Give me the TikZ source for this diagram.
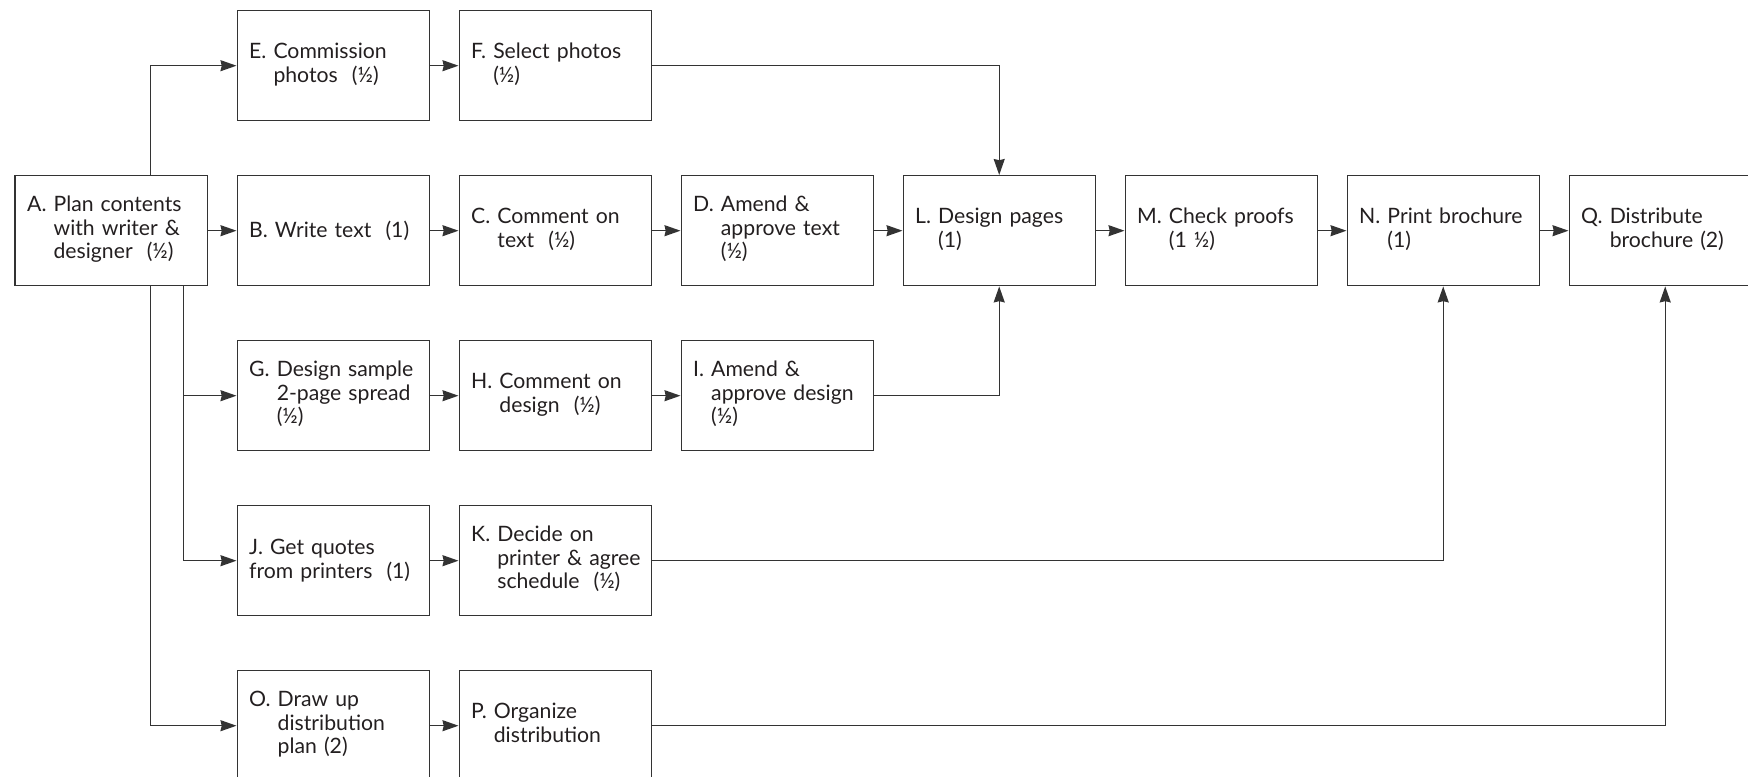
\documentclass[tikz,border=0pt]{standalone}
\usepackage{fontspec}
\setmainfont{Lato}
\usetikzlibrary{arrows.meta,positioning,calc}
\definecolor{pmline}{HTML}{333333}
\definecolor{pmtext}{HTML}{231F20}
\newcommand{\tasktext}[2]{#1~\begin{tabular}[t]{@{}l@{}}#2\end{tabular}}

\begin{document}
\begin{tikzpicture}[
   node distance=26.8pt and 14.3pt,
   task/.style={draw=pmline,line width=0.7pt,minimum width=96pt,
                minimum height=55pt,text width=84pt,inner xsep=6pt,
                align=left,text=pmtext,
                font=\fontsize{10.6}{11.7}\selectfont},
   ar/.style={-{Stealth[length=8pt,width=5.5pt,inset=0.6pt]},line width=0.7pt,pmline}]
  % main row
  \node[task] (A) {\tasktext{A.}{Plan contents\\with writer \&\\designer~~(½)}};
  \node[task,right=of A] (B) {B. Write text~~(1)};
  \node[task,right=of B] (C) {\tasktext{C.}{Comment on\\text~~(½)}};
  \node[task,right=of C] (D) {\tasktext{D.}{Amend \&\\approve text\\(½)}};
  \node[task,right=of D] (L) {\tasktext{L.}{Design pages\\(1)}};
  \node[task,right=of L] (M) {\tasktext{M.}{Check proofs\\(1 ½)}};
  \node[task,right=of M] (N) {\tasktext{N.}{Print brochure\\(1)}};
  \node[task,right=of N] (Q) {\tasktext{Q.}{Distribute\\brochure (2)}};
  % side branches
  \node[task,above=of B] (E) {\tasktext{E.}{Commission\\photos~~(½)}};
  \node[task,right=of E] (F) {\tasktext{F.}{Select photos\\(½)}};
  \node[task,below=of B] (G) {\tasktext{G.}{Design sample\\2-page spread\\(½)}};
  \node[task,right=of G] (H) {\tasktext{H.}{Comment on\\design~~(½)}};
  \node[task,right=of H] (I) {\tasktext{I.}{Amend \&\\approve design\\(½)}};
  \node[task,below=of G] (J) {J. Get quotes\\from printers~~(1)};
  \node[task,right=of J] (K) {\tasktext{K.}{Decide on\\printer \& agree\\schedule~~(½)}};
  \node[task,below=of J] (O) {\tasktext{O.}{Draw up\\distribution\\plan (2)}};
  \node[task,right=of O] (P) {\tasktext{P.}{Organize\\distribution}};
  \draw[ar] (A)--(B); \draw[ar] (B)--(C); \draw[ar] (C)--(D);
  \draw[ar] (D)--(L); \draw[ar] (L)--(M); \draw[ar] (M)--(N);
  \draw[ar] (N)--(Q);
  \draw[ar] (E)--(F); \draw[ar] (G)--(H); \draw[ar] (H)--(I);
  \draw[ar] (J)--(K); \draw[ar] (O)--(P);
  \draw[ar] ([xshift=19.5pt]A.north) |- (E);
  \draw[ar] ([xshift=19.5pt]A.south) |- (O);
  \draw[ar] ([xshift=36.25pt]A.south) |- (G);
  \draw[ar] ([xshift=36.25pt]A.south) |- (J);
  \draw[ar] (F) -| (L);
  \draw[ar] (I) -| (L);
  \draw[ar] (K) -| (N);
  \draw[ar] (P) -| (Q);
  \pgfresetboundingbox
  \useasboundingbox ($(A.west |- E.north)+(-7.25pt,5pt)$) rectangle ++(874pt,-388pt);
\end{tikzpicture}
\end{document}
